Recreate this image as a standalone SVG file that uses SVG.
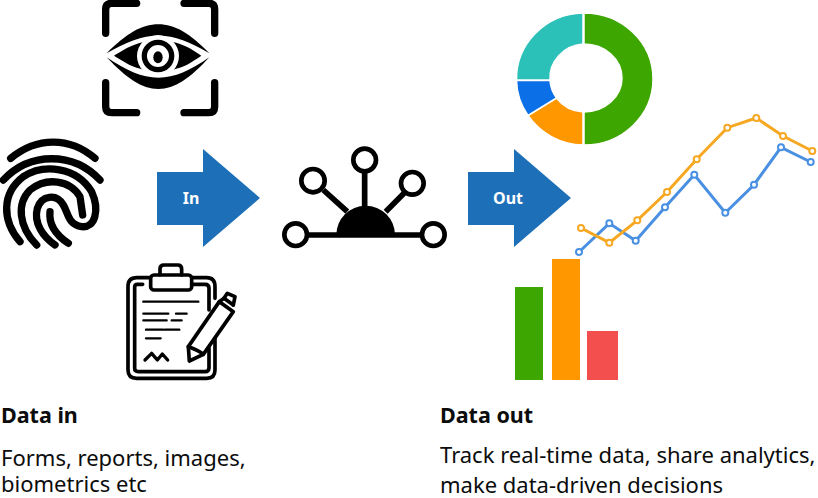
<svg xmlns="http://www.w3.org/2000/svg" width="818" height="498" viewBox="0 0 818 498">
<style>
.t{font-family:"Noto Sans","Liberation Sans",sans-serif;font-size:22px;fill:#0b0c0c}
.b{font-weight:700;font-size:21.500px}
.ic{fill:none;stroke:#000;stroke-linecap:round;stroke-linejoin:round}
.arrow{fill:#1d70b8}
.al{font-family:"Noto Sans","Liberation Sans",sans-serif;font-size:16px;font-weight:700;fill:#fff;text-anchor:middle}
.lo{fill:none;stroke:#f7a823;stroke-width:3}
.lb{fill:none;stroke:#4a90e2;stroke-width:3}
.po{fill:#fff;stroke:#f7a823;stroke-width:2}
.pb{fill:#fff;stroke:#4a90e2;stroke-width:2}
</style>
<rect width="818" height="498" fill="#fff"/>
<g id="eye" transform="translate(90 0) scale(.3333)">
<g class="ic" stroke-width="22">
<path d="M140 10H65Q47 10 47 28V100"/><path d="M282 10H357Q374 10 374 28V100"/>
<path d="M47 248V320Q47 338 65 338H140"/><path d="M374 248V320Q374 338 357 338H282"/>
</g>
<path d="M50 160C110 100 155 73 205 73C255 73 300 100 358 160C300 125 255 107 205 107C155 107 110 125 50 160Z"/>
<path d="M50 172C110 235 155 267 205 267C255 267 300 235 358 172C300 212 255 233 205 233C155 233 110 212 50 172Z"/>
<path d="M72 167C110 145 130 128 205 118C280 128 300 145 334 167C300 190 280 207 205 217C130 207 110 190 72 167Z"/>
<circle cx="204" cy="168" r="63" fill="#fff"/>
<circle cx="204" cy="168" r="41" fill="none" stroke="#000" stroke-width="16"/>
<ellipse cx="204" cy="172" rx="14" ry="18"/>
</g>
<g id="fingerprint" transform="translate(0 130) scale(.3333)">
<g class="ic" stroke-width="22">
<path d="M32 85C110 20 210 20 285 85"/>
<path d="M10 150C90 65 220 65 300 150"/>
<path d="M60 335C5 270 5 190 70 140C130 100 230 110 275 185C300 240 285 295 245 290C205 285 205 250 190 225C170 190 125 195 112 235C100 280 130 320 165 345"/>
<path d="M110 345C55 290 50 220 90 180C140 140 210 150 240 200L248 255"/>
<path d="M150 245C145 290 175 320 205 340"/>
</g>
</g>
<g id="clipboard" transform="translate(120 255) scale(.3333)">
<g class="ic" stroke-width="11">
<path d="M90 68H50Q24 68 24 95V345Q24 370 50 370H260Q285 370 285 345V250"/>
<path d="M215 68H260Q285 68 285 95V130"/>
<path d="M68 88H52Q44 88 44 96V340Q44 350 55 350H255Q267 350 267 338V280"/>
<path d="M215 88H255Q267 88 267 100V165"/>
<path d="M120 60V42Q120 30 132 30H173Q185 30 185 42V60"/>
<rect x="92" y="60" width="123" height="45" rx="10"/>
<path d="M205 275L298 140L340 170L250 298L208 318Z"/>
<path d="M312 130L322 115L345 125L340 150"/>
<path d="M298 140L312 130L340 150"/>
<path d="M205 275Q235 285 250 298"/>
</g>
<g class="ic" stroke-width="7">
<path d="M70 140H235M70 176H145M168 176H200M70 196H140M155 196H185M78 224H130M135 224H178M78 250H122"/>
<path d="M75 315L95 295L112 315L127 297L143 315" stroke-width="10"/>
</g>
</g>
<g id="arrow-in">
<path class="arrow" d="M157 172H203V149L260 198L203 247V225H157Z"/>
<text class="al" x="191" y="204">In</text>
</g>
<g id="hub" transform="translate(274 140) scale(.3333)">
<path d="M187 285A88 88 0 0 1 363 285Z"/>
<g class="ic" stroke-width="17">
<path d="M100 285H440" stroke-linecap="butt"/>
<path d="M272 95V200M148 150L220 215M390 160L335 215" stroke-linecap="butt"/>
</g>
<g fill="none" stroke="#000" stroke-width="14">
<circle cx="65" cy="284" r="34"/><circle cx="478" cy="284" r="34"/><circle cx="272" cy="60" r="34"/><circle cx="117" cy="122" r="35"/><circle cx="415" cy="130" r="34"/>
</g>
</g>
<g id="arrow-out">
<path class="arrow" d="M468 172H514V149L571 198L514 247V225H468Z"/>
<text class="al" x="508" y="204">Out</text>
</g>
<g id="donut" stroke="#fff" stroke-width="1.5">
<path fill="#3ea600" d="M584 13A69 66 0 0 1 584 145V112A38 34 0 0 0 584 44Z"/>
<path fill="#ff9800" d="M583 145A68 66 0 0 1 528 115.500L556.500 98A36 34 0 0 0 583 112Z"/>
<path fill="#0b6fe8" d="M528 115.500A68 66 0 0 1 516.500 80.500L550 80.500A36 34 0 0 0 556.500 98Z"/>
<path fill="#2bc0b8" d="M516.500 80A68 66 0 0 1 583 13V44A36 34 0 0 0 550 80Z"/>
</g>
<g id="line-chart">
<polyline class="lb" points="579,252 609.300,223.300 635.700,240.700 665,207.300 694.300,174.700 725.300,212.700 754,184.700 781,147.300 810.700,162"/>
<polyline class="lo" points="581,228 609.300,242.700 637.300,220.300 667,192 696.700,159.300 727.300,127.700 756.300,118 783,136 812.300,151"/>
<g class="pb"><circle cx="579" cy="252" r="3"/><circle cx="609.300" cy="223.300" r="3"/><circle cx="635.700" cy="240.700" r="3"/><circle cx="665" cy="207.300" r="3"/><circle cx="694.300" cy="174.700" r="3"/><circle cx="725.300" cy="212.700" r="3"/><circle cx="754" cy="184.700" r="3"/><circle cx="781" cy="147.300" r="3"/><circle cx="810.700" cy="162" r="3"/></g>
<g class="po"><circle cx="581" cy="228" r="3"/><circle cx="609.300" cy="242.700" r="3"/><circle cx="637.300" cy="220.300" r="3"/><circle cx="667" cy="192" r="3"/><circle cx="696.700" cy="159.300" r="3"/><circle cx="727.300" cy="127.700" r="3"/><circle cx="756.300" cy="118" r="3"/><circle cx="783" cy="136" r="3"/><circle cx="812.300" cy="151" r="3"/></g>
</g>
<g id="bars">
<rect x="515" y="287" width="28" height="93" fill="#3ea600"/>
<rect x="552" y="259" width="28" height="121" fill="#ff9800"/>
<rect x="587" y="331" width="31" height="49" fill="#f44f4f"/>
</g>
<g id="captions">
<text class="t b" x="1" y="423">Data in</text>
<text class="t" x="1" y="466">Forms, reports, images,</text>
<text class="t" x="1" y="492">biometrics etc</text>
<text class="t b" x="440" y="423">Data out</text>
<text class="t" x="440" y="463">Track real-time data, share analytics,</text>
<text class="t" x="440" y="493">make data-driven decisions</text>
</g>
</svg>
